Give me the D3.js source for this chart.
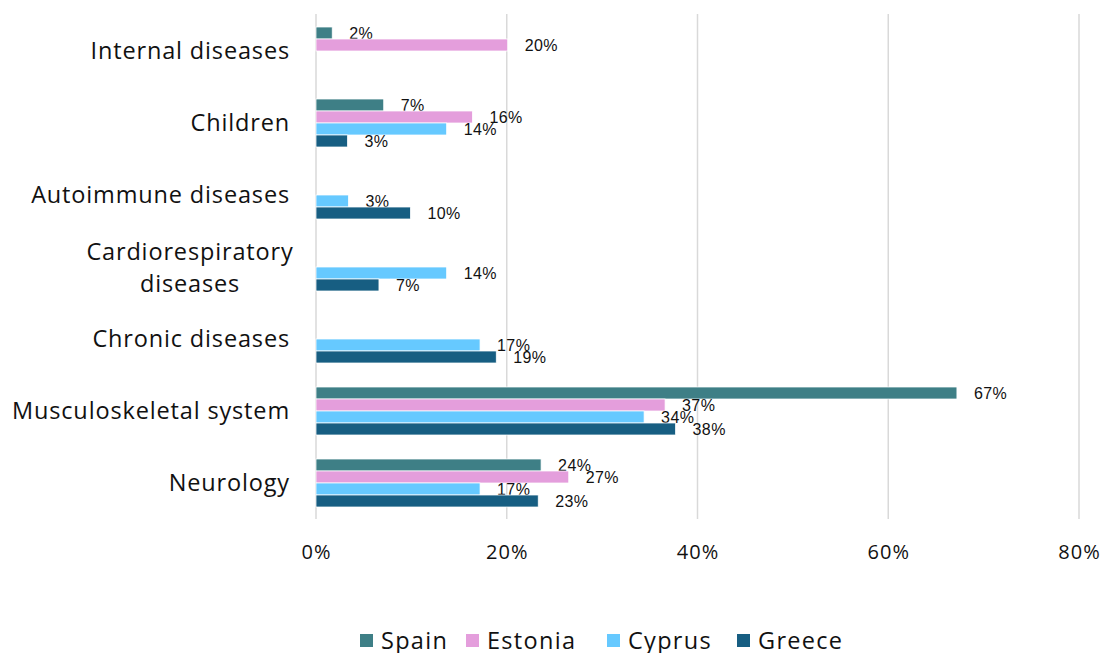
<!DOCTYPE html>
<html><head><meta charset="utf-8">
<script src="https://cdn.jsdelivr.net/npm/d3@7"></script>
<style>body{margin:0;background:#fff}svg{display:block}</style>
</head><body>
<script>
const categories = ["Internal diseases","Children","Autoimmune diseases","Cardiorespiratory diseases","Chronic diseases","Musculoskeletal system","Neurology"];
const seriesNames = ["Spain","Estonia","Cyprus","Greece"];
const colors = ["#3e7f86","#e49edc","#66c9ff","#175e82"];
const spain   = [1.7, 7.1, null, null, null, 67.2, 23.6];
const estonia = [20.1, 16.4, null, null, null, 36.6, 26.5];
const cyprus  = [null, 13.7, 3.4, 13.7, 17.2, 34.4, 17.2];
const greece  = [null, 3.3, 9.9, 6.6, 18.9, 37.7, 23.3];
const xTicks = [0,20,40,60,80];

const W=1103,H=653;
const FONT="'Open Sans',sans-serif";
const svg=d3.select("body").append("svg").attr("width",W).attr("height",H);
const x=d3.scaleLinear().domain([0,80]).range([316,1079]);
const y=d3.scaleBand().domain(categories).range([15,519]);
const inner=d3.scaleBand().domain(seriesNames).range([0,48]);
const values=[spain,estonia,cyprus,greece];

// gridlines
svg.append("g").selectAll("line").data(xTicks).join("line")
 .attr("x1",d=>x(d)).attr("x2",d=>x(d)).attr("y1",14).attr("y2",519)
 .attr("stroke","#d9d9d9").attr("stroke-width",1.5);

// x axis labels
const xa=d3.axisBottom(x).tickValues(xTicks).tickFormat(d=>d+"%").tickSize(0);
const gx=svg.append("g").attr("transform","translate(0,538)").call(xa);
gx.select(".domain").remove();
gx.selectAll("text").attr("font-family",FONT).attr("font-size",20).attr("letter-spacing","1px")
  .attr("fill","#111").attr("dy","0.9em");

// bars
categories.forEach((c,ci)=>{
  const y0=y(c)+(y.bandwidth()-48)/2;
  seriesNames.forEach((s,si)=>{
    const v=values[si][ci];
    if(v==null) return;
    svg.append("rect").attr("x",x(0)).attr("y",y0+inner(s))
      .attr("width",x(v)-x(0)).attr("height",inner.bandwidth())
      .attr("fill",colors[si]).attr("stroke","#fff").attr("stroke-width",0.75);
    svg.append("text").attr("x",x(v)+17).attr("y",y0+inner(s)+inner.bandwidth()/2)
      .attr("dy","0.36em").attr("font-family","'Liberation Sans',Arial,sans-serif")
      .attr("font-size",16).attr("letter-spacing","0.4px").attr("fill","#111").text(Math.round(v)+"%");
  });
});

// category labels
const ya=svg.append("g");
categories.forEach(c=>{
  const cy=y(c)+y.bandwidth()/2;
  const t=ya.append("text").attr("font-family",FONT).attr("font-size",23.5)
    .attr("letter-spacing","0.85px").attr("fill","#111");
  if(c==="Cardiorespiratory diseases"){
    t.attr("text-anchor","middle");
    t.append("tspan").attr("x",190).attr("y",cy-15).attr("dy","0.35em").text("Cardiorespiratory");
    t.append("tspan").attr("x",190).attr("y",cy+17).attr("dy","0.35em").text("diseases");
  } else {
    t.attr("text-anchor","end").attr("x",290).attr("y",cy).attr("dy","0.35em").text(c);
  }
});

// legend
const legX=[360,466,607,737];
const lg=svg.append("g");
seriesNames.forEach((s,i)=>{
  lg.append("rect").attr("x",legX[i]).attr("y",634).attr("width",13).attr("height",13).attr("fill",colors[i]);
  lg.append("text").attr("x",legX[i]+21).attr("y",641).attr("dy","0.35em")
    .attr("font-family",FONT).attr("font-size",23.5).attr("letter-spacing","1.3px").attr("fill","#111").text(s);
});
</script>
</body></html>
